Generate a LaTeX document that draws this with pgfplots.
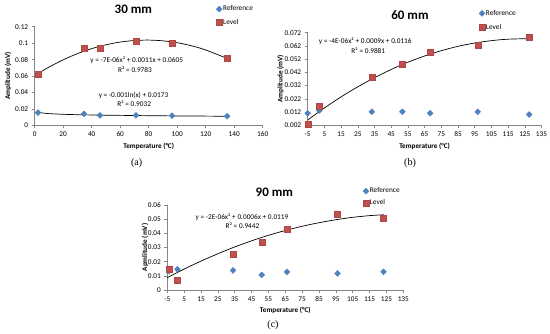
\documentclass[border=0pt]{standalone}
\usepackage{fontspec}
\setmainfont{Carlito}
\newfontfamily\serifsub{Liberation Serif}
\usepackage{pgfplots}
\pgfplotsset{compat=1.18}
\definecolor{refblue}{HTML}{4F81BD}
\definecolor{lvlred}{HTML}{C0504D}
\definecolor{axgray}{HTML}{868686}
\newcommand{\smallf}{\fontsize{7.3}{8}\selectfont}
\pgfplotsset{
 xlstyle/.style={
  scale only axis,
  anchor=south west,
  axis lines=left,
  axis line style={-, draw=axgray, line width=0.6pt},
  tick style={draw=axgray, line width=0.6pt},
  tick align=outside,
  major tick length=3pt,
  minor tick num=0,
  /pgf/number format/assume math mode=true,
  /pgf/number format/fixed,
  /pgf/number format/precision=3,
  scaled y ticks=false,
  scaled x ticks=false,
  tick label style={font=\smallf, text=black},
  clip=false,
  legend cell align=left,
  legend image code/.code={\draw[##1,mark repeat=2,mark phase=2] plot coordinates {(0pt,0pt)(3pt,0pt)(6pt,0pt)};},
  legend style={draw=none, fill=none, inner sep=0pt, anchor=north west, font=\smallf, nodes={inner sep=1pt}},
 },
 refmark/.style={only marks, mark=diamond*, mark size=3pt, mark options={xscale=1.3, fill=refblue, draw=refblue}},
 lvlmark/.style={only marks, mark=square*, mark size=3pt, mark options={fill=lvlred, draw=lvlred!90!black}},
 trend/.style={black, line width=0.7pt, smooth, mark=none, forget plot},
}
\begin{document}
\begin{tikzpicture}
\path[use as bounding box] (0pt,0pt) rectangle (550pt,-334pt);
% ---------------- (a) 30 mm ----------------
\begin{axis}[xlstyle, at={(34.7pt,-125.3pt)}, width=228pt, height=98.6pt,
  xmin=0, xmax=160, ymin=0, ymax=0.12,
  xtick={0,20,40,60,80,100,120,140,160},
  ytick={0,0.02,0.04,0.06,0.08,0.1,0.12},
  legend style={at={(0.7952,1.2231)}, row sep=4.7pt}]
\addplot[refmark] coordinates {(2.3,0.0155) (34.6,0.0138) (45.8,0.0120) (71.1,0.0120) (96.4,0.0118) (135,0.0110)};
\addlegendentry{Reference}
\addplot[lvlmark] coordinates {(2.3,0.0616) (34.6,0.0936) (45.8,0.0933) (71.1,0.1026) (96.4,0.0997) (135,0.0815)};
\addlegendentry{Level}
\addplot[trend] coordinates {(2.3,0.0630) (10,0.0708) (20,0.0797) (30,0.0872) (40,0.0933) (50,0.0980) (60,0.1013) (70,0.1032) (80,0.1037) (90,0.1028) (100,0.1005) (110,0.0968) (120,0.0917) (135,0.0814)};
\addplot[trend] coordinates {(2.3,0.0160) (5,0.0151) (10,0.0142) (20,0.0134) (30,0.0129) (40,0.0126) (50,0.0123) (60,0.0121) (80,0.0117) (100,0.0114) (120,0.0112) (135,0.0110)};
\end{axis}
\node[font=\fontsize{13}{15}\selectfont\bfseries, inner sep=0pt] at (133.3pt,-9pt) {30 mm};
\node[rotate=90, font=\fontsize{7.2}{8}\selectfont\bfseries, inner sep=0pt] at (8pt,-76pt) {Amplitude (mV)};
\node[font=\fontsize{7.2}{8}\selectfont\bfseries, inner sep=0pt] at (148.7pt,-146.7pt) {Temperature (°C)};
\node[font=\smallf, inner sep=0pt] at (136.7pt,-60.7pt) {y = -7E-06x² + 0.0011x + 0.0605};
\node[font=\smallf, inner sep=0pt] at (135pt,-70pt) {R² = 0.9783};
\node[font=\smallf, inner sep=0pt] at (133.5pt,-95.7pt) {y = -0.001ln(x) + 0.0173};
\node[font=\smallf, inner sep=0pt] at (134.2pt,-104pt) {R² = 0.9032};
\node[font=\serifsub\fontsize{10}{12}\selectfont, inner sep=0pt] at (136.7pt,-163pt) {(a)};
% ---------------- (b) 60 mm ----------------
\begin{axis}[xlstyle, at={(307.7pt,-125.3pt)}, width=233.8pt, height=92.6pt,
  xmin=-5, xmax=135, ymin=0.002, ymax=0.072,
  xtick={-5,5,15,25,35,45,55,65,75,85,95,105,115,125,135},
  ytick={0.002,0.012,0.022,0.032,0.042,0.052,0.062,0.072},
  legend style={at={(0.7318,1.2559)}, row sep=5.4pt}]
\addplot[refmark] coordinates {(-5,0.0111) (2,0.0132) (33.4,0.0122) (51.7,0.0122) (68.3,0.0111) (96.8,0.0122) (127.6,0.0102)};
\addlegendentry{Reference}
\addplot[lvlmark] coordinates {(-5,0.0025) (2,0.0161) (33.4,0.0387) (51.7,0.0481) (68.3,0.0571) (96.8,0.0622) (127.6,0.0687)};
\addlegendentry{Level}
\addplot[trend] coordinates {(-5,0.0060) (5,0.0151) (15,0.0235) (25,0.0311) (35,0.0380) (45,0.0442) (55,0.0497) (65,0.0544) (75,0.0584) (85,0.0617) (95,0.0642) (105,0.0660) (115,0.0671) (127.6,0.0675)};
\end{axis}
\node[font=\fontsize{13}{15}\selectfont\bfseries, inner sep=0pt] at (410pt,-15pt) {60 mm};
\node[rotate=90, font=\fontsize{7.2}{8}\selectfont\bfseries, inner sep=0pt] at (280.5pt,-79pt) {Amplitude (mV)};
\node[font=\fontsize{7.2}{8}\selectfont\bfseries, inner sep=0pt] at (424.6pt,-146pt) {Temperature (°C)};
\node[font=\smallf, inner sep=0pt] at (365.3pt,-41pt) {y = -4E-06x² + 0.0009x + 0.0116};
\node[font=\smallf, inner sep=0pt] at (368.3pt,-50.5pt) {R² = 0.9881};
\node[font=\serifsub\fontsize{10}{12}\selectfont, inner sep=0pt] at (410pt,-162.7pt) {(b)};
% ---------------- (c) 90 mm ----------------
\begin{axis}[xlstyle, at={(167.3pt,-290pt)}, width=236pt, height=85pt,
  xmin=-5, xmax=135, ymin=0, ymax=0.06,
  xtick={-5,5,15,25,35,45,55,65,75,85,95,105,115,125,135},
  ytick={0,0.01,0.02,0.03,0.04,0.05,0.06},
  legend style={at={(0.828,1.2153)}, row sep=3.1pt}]
\addplot[refmark] coordinates {(-4,0.0133) (1,0.0147) (34,0.0138) (51,0.0107) (66,0.0128) (96,0.0117) (123.3,0.0128)};
\addlegendentry{Reference}
\addplot[lvlmark] coordinates {(-4,0.0147) (1,0.0068) (34,0.0254) (51,0.0334) (66,0.0432) (96,0.0533) (123.3,0.0505)};
\addlegendentry{Level}
\addplot[trend] coordinates {(-5,0.0087) (5,0.0148) (15,0.0204) (25,0.0256) (35,0.0304) (45,0.0347) (55,0.0386) (65,0.0420) (75,0.0450) (85,0.0475) (95,0.0496) (105,0.0513) (115,0.0525) (123.3,0.0531)};
\end{axis}
\node[font=\fontsize{13}{15}\selectfont\bfseries, inner sep=0pt] at (274.3pt,-192.3pt) {90 mm};
\node[rotate=90, font=\fontsize{7.2}{8}\selectfont\bfseries, inner sep=0pt] at (145pt,-247.5pt) {Apmlitude (mV)};
\node[font=\fontsize{7.2}{8}\selectfont\bfseries, inner sep=0pt] at (285.3pt,-310.7pt) {Temperature (°C)};
\node[font=\smallf, inner sep=0pt] at (242pt,-217.3pt) {y = -2E-06x² + 0.0006x + 0.0119};
\node[font=\smallf, inner sep=0pt] at (242.5pt,-225.8pt) {R² = 0.9442};
\node[font=\serifsub\fontsize{10}{12}\selectfont, inner sep=0pt] at (273pt,-325pt) {(c)};
\end{tikzpicture}
\end{document}
